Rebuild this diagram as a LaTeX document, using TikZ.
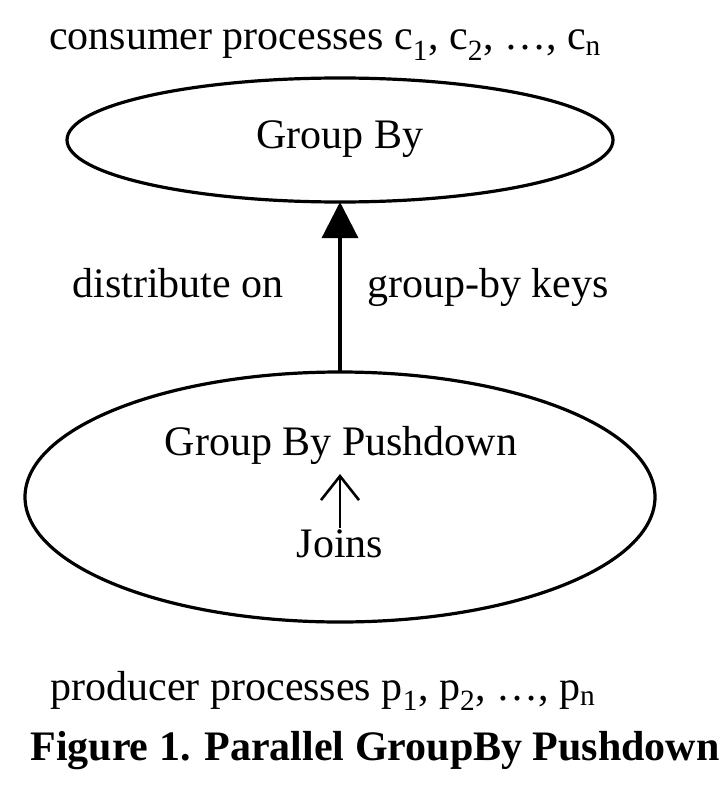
\documentclass[tikz,border=0pt]{standalone}
\usepackage{fontspec}
\setmainfont{Liberation Serif}
\usetikzlibrary{arrows.meta}
\begin{document}
\begin{tikzpicture}[x=1pt,y=-1pt,
  ell/.style={draw,ellipse,line width=3.2pt},
  txt/.style={font=\fontsize{42}{50}\selectfont,inner sep=0pt},
  ttl/.style={font=\fontsize{42}{50}\selectfont\bfseries,inner sep=0pt}]
\useasboundingbox (0,0) rectangle (726,792);
\draw[line width=3.2pt] (340,140) ellipse [x radius=273, y radius=62];
\draw[line width=3.2pt] (340,497) ellipse [x radius=315, y radius=125];
\coordinate (topb) at (340,202);
\coordinate (botT) at (340,372);
\draw[line width=3.2pt,-{Triangle[length=36pt,width=36pt]}] (botT) -- (topb);
\node[txt,anchor=base] (cons) at (325,50) {consumer processes c\textsubscript{1}, c\textsubscript{2}, …, c\textsubscript{n}};
\node[txt,anchor=base] (gb) at (340,148) {Group By};
\node[txt,anchor=base] (dist) at (178,297) {distribute on};
\node[txt,anchor=base] (keys) at (488,297) {group-by keys};
\node[txt,anchor=base] (gbp) at (341,455) {Group By Pushdown};
\node[txt,anchor=base] (joins) at (340,557) {Joins};
\coordinate (sa) at (340,528);
\coordinate (sb) at (340,474);
\draw[line width=2.6pt,-{Straight Barb[length=24pt,width=38pt,line width=2.6pt]}] (sa) -- (sb);
\node[txt,anchor=base] (prod) at (323,700) {producer processes p\textsubscript{1}, p\textsubscript{2}, …, p\textsubscript{n}};
\node[ttl,anchor=base] (fig) at (375,760) {Figure 1. Parallel GroupBy Pushdown};
\end{tikzpicture}
\end{document}
